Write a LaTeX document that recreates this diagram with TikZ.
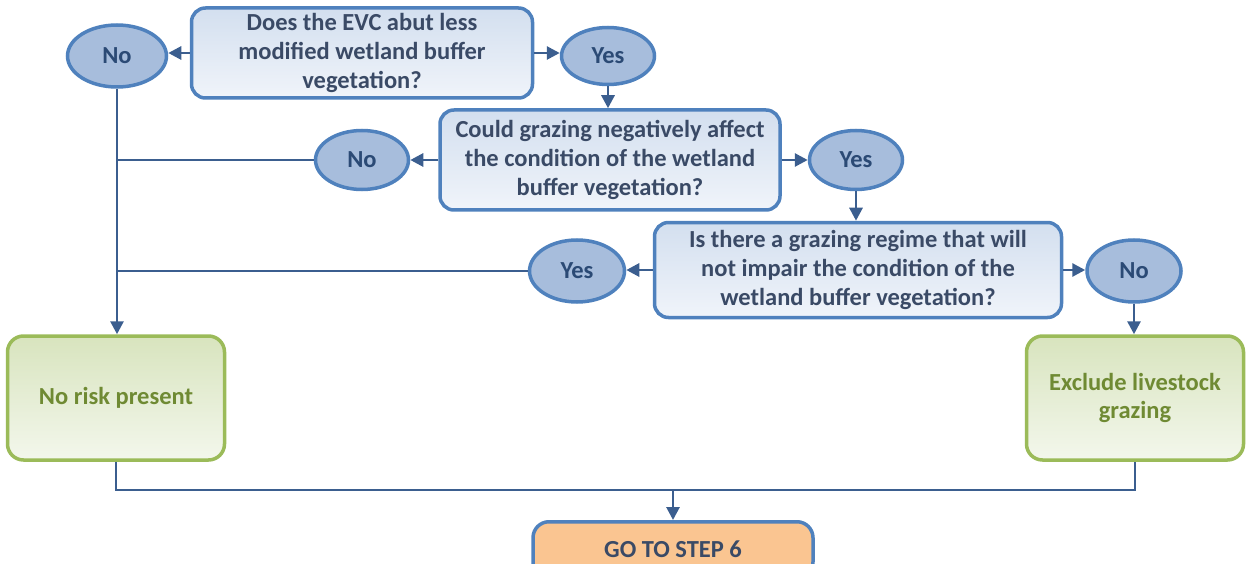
\documentclass[tikz,border=0pt]{standalone}
\usepackage{fontspec}
\setmainfont{Carlito}
\usetikzlibrary{arrows.meta,shapes.geometric}
\definecolor{qborder}{HTML}{4F81BD}
\definecolor{qtop}{HTML}{D3DFEF}
\definecolor{qbot}{HTML}{F0F4FA}
\definecolor{qtext}{HTML}{3A4A66}
\definecolor{ellfill}{HTML}{A7BDDC}
\definecolor{elltext}{HTML}{2B4A75}
\definecolor{gborder}{HTML}{9BBB59}
\definecolor{gtop}{HTML}{D8E4BE}
\definecolor{gbot}{HTML}{F3F7EC}
\definecolor{gtext}{HTML}{6F8A33}
\definecolor{conn}{HTML}{3B5E8F}
\definecolor{gofill}{HTML}{FAC591}
\begin{document}
\begin{tikzpicture}[x=1pt,y=-1pt,
  every node/.style={font=\bfseries\fontsize{24.5}{28.8}\selectfont},
  question/.style={draw=qborder, line width=3.5pt, rounded corners=14pt, top color=qtop, bottom color=qbot, text=qtext, align=center, inner sep=0pt},
  answer/.style={ellipse, draw=qborder, line width=3.5pt, fill=ellfill, text=elltext, inner sep=0pt},
  result/.style={draw=gborder, line width=3.5pt, rounded corners=16pt, top color=gtop, bottom color=gbot, text=gtext, align=center, inner sep=0pt},
  gobox/.style={draw=qborder, line width=3.5pt, rounded corners=16pt, fill=gofill, text=qtext, align=center, inner sep=0pt},
  conn/.style={draw=conn, line width=2.8pt},
  arr/.style={conn, -{Triangle[length=13pt,width=13pt]}}
]
\useasboundingbox (0,0) rectangle (1247,564);

\node[question, minimum width=341pt, minimum height=90pt] (q1) at (362,53) {Does the EVC abut less\\modified wetland buffer\\vegetation?};
\node[answer, minimum width=99pt, minimum height=62pt] (n1) at (117,56) {No};
\node[answer, minimum width=93pt, minimum height=57pt] (y1) at (608,56) {Yes};

\node[question, minimum width=340pt, minimum height=100pt] (q2) at (610,160) {Could grazing negatively affect\\the condition of the wetland\\buffer vegetation?};
\node[answer, minimum width=93pt, minimum height=59pt] (n2) at (362,160) {No};
\node[answer, minimum width=93pt, minimum height=59pt] (y2) at (856,160) {Yes};

\node[question, minimum width=407pt, minimum height=95pt] (q3) at (858,270) {Is there a grazing regime that will\\not impair the condition of the\\wetland buffer vegetation?};
\node[answer, minimum width=95pt, minimum height=62pt] (y3) at (577,271) {Yes};
\node[answer, minimum width=94pt, minimum height=62pt] (n3) at (1134,271) {No};

\node[result, minimum width=217pt, minimum height=124pt] (nr) at (116,398) {No risk present};
\node[result, minimum width=217pt, minimum height=124pt] (ex) at (1135,398) {Exclude livestock\\grazing};

\node[gobox, minimum width=280pt, minimum height=56pt, anchor=north] (go) at (673,520) {\raisebox{-3pt}{GO TO STEP 6}\vphantom{p}};

\coordinate (j1) at (117,160);
\coordinate (j2) at (117,271);
\coordinate (b1) at (116,490);
\coordinate (b2) at (1135,490);
\coordinate (bm) at (673,490);

\draw[arr] (q1.west) -- (q1.west -| n1.east);
\draw[arr] (q1.east) -- (q1.east -| y1.west);
\draw[arr] (y1.south) -- (y1.south |- q2.north);
\draw[arr] (q2.west) -- (n2.east);
\draw[arr] (q2.east) -- (y2.west);
\draw[arr] (y2.south) -- (y2.south |- q3.north);
\draw[arr] (q3.west) -- (q3.west -| y3.east);
\draw[arr] (q3.east) -- (q3.east -| n3.west);
\draw[arr] (n3.south) -- (n3.south |- ex.north);
\draw[arr] (n1.south) -- (n1.south |- nr.north);
\draw[conn] (n2.west) -- (j1);
\draw[conn] (y3.west) -- (j2);
\draw[conn] (nr.south) -- (b1) -- (b2) -- (ex.south);
\draw[arr] (bm) -- (go.north);
\end{tikzpicture}
\end{document}
